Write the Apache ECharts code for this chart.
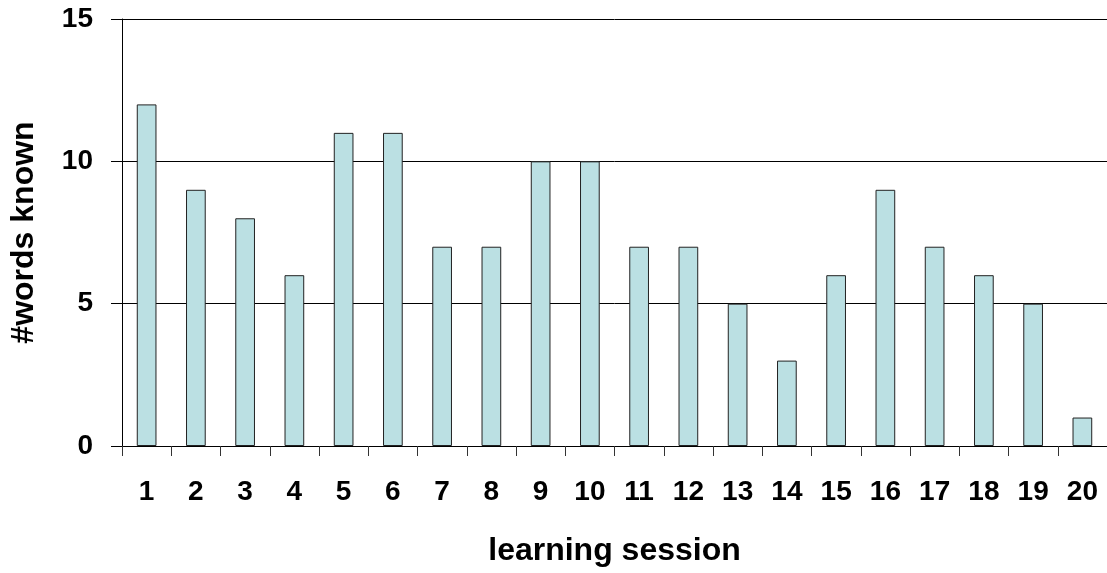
<!DOCTYPE html>
<html>
<head>
<meta charset="utf-8">
<script src="https://cdn.jsdelivr.net/npm/echarts@6/dist/echarts.min.js"></script>
<style>
html,body{margin:0;padding:0;background:#fff;}
#chart{width:1107px;height:573px;}
</style>
</head>
<body>
<div id="chart"></div>
<script>
const categories = ['1','2','3','4','5','6','7','8','9','10','11','12','13','14','15','16','17','18','19','20'];
const wordsKnown = [12, 9, 8, 6, 11, 11, 7, 7, 10, 10, 7, 7, 5, 3, 6, 9, 7, 6, 5, 1];
const yTicks = { min: 0, max: 15, interval: 5 };
const xTitle = 'learning session';
const yTitle = '#words known';

const font = 'Liberation Sans, Arial, sans-serif';
const chart = echarts.init(document.getElementById('chart'), null, { renderer: 'canvas' });
chart.setOption({
  animation: false,
  backgroundColor: '#ffffff',
  grid: { left: 122, right: 0, top: 19, bottom: 127, containLabel: false },
  xAxis: {
    type: 'category',
    data: categories,
    name: xTitle,
    nameLocation: 'middle',
    nameGap: 89,
    nameTextStyle: { fontFamily: font, fontWeight: 'bold', fontSize: 32, color: '#000' },
    axisLine: { show: true, lineStyle: { color: '#000', width: 1 } },
    axisTick: { show: true, length: 10, inside: false, lineStyle: { color: '#333' } },
    axisLabel: { margin: 32, fontFamily: font, fontWeight: 'bold', fontSize: 28, color: '#000' },
    splitLine: { show: false }
  },
  yAxis: {
    type: 'value',
    min: yTicks.min,
    max: yTicks.max,
    interval: yTicks.interval,
    name: yTitle,
    nameLocation: 'middle',
    nameGap: 82,
    nameRotate: 90,
    nameTextStyle: { fontFamily: font, fontWeight: 'bold', fontSize: 32, color: '#000' },
    axisLine: { show: true, lineStyle: { color: '#000', width: 1 } },
    axisTick: { show: true, length: 11, inside: false, lineStyle: { color: '#000' } },
    axisLabel: { margin: 29, fontFamily: font, fontWeight: 'bold', fontSize: 28, color: '#000' },
    splitLine: { show: true, lineStyle: { color: '#000', width: 1 } }
  },
  series: [{
    type: 'bar',
    data: wordsKnown,
    barWidth: '40%',
    itemStyle: { color: '#bbe0e3', borderColor: '#222', borderWidth: 1 }
  }]
});
</script>
</body>
</html>
